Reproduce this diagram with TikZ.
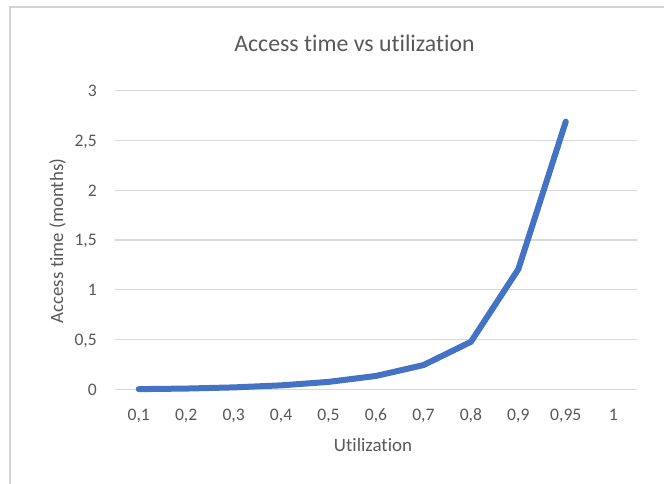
\documentclass[tikz,border=0pt]{standalone}
\usepackage{fontspec}
\setmainfont{Carlito}[Ligatures={NoCommon}]
\definecolor{txt}{HTML}{595959}
\definecolor{gridc}{HTML}{D9D9D9}
\definecolor{framec}{HTML}{D4D4D4}
\definecolor{series}{HTML}{4472C4}
\tikzset{
  gridline/.style={draw=gridc, line width=1.3pt},
  frameline/.style={draw=framec, line width=2pt},
  ticklab/.style={text=txt, font=\fontsize{17.6}{20}\selectfont, inner sep=0pt},
  axtitle/.style={text=txt, font=\fontsize{18.9}{22}\selectfont, inner sep=0pt},
  charttitle/.style={text=txt, font=\fontsize{23.8}{28}\selectfont, inner sep=0pt},
  seriesline/.style={draw=series, line width=6pt, line cap=round, line join=round},
}
\begin{document}
\begin{tikzpicture}[x=1pt,y=-1pt]
  \useasboundingbox (0,0) rectangle (664,483);
  \fill[white] (0,0) rectangle (664,483);
  % chart area frame (runs past the right and bottom edges)
  \draw[frameline] (9.7,500) -- (9.7,7) -- (700,7);
  % plot area: y from 0 to 3, 99.53 units per 1
  \def\yz{389.3}
  \def\yu{99.53}
  \foreach \v/\lab in {0/0,0.5/{0,5},1/1,1.5/{1,5},2/2,2.5/{2,5},3/3}{
    \draw[gridline] (115,{\yz-\v*\yu}) -- (637,{\yz-\v*\yu});
    \node[ticklab, anchor=base east] at (97,{\yz-\v*\yu+5.8}) {\lab};
  }
  % category labels
  \foreach \i/\lab in {0/{0,1},1/{0,2},2/{0,3},3/{0,4},4/{0,5},5/{0,6},6/{0,7},7/{0,8},8/{0,9},9/{0,95},10/1}{
    \node[ticklab, anchor=base] at ({115+47.45*(\i+0.5)},420) {\lab};
  }
  % data points
  \foreach \i/\v in {0/0.00166,1/0.00745,2/0.01916,3/0.03973,4/0.0745,5/0.1341,6/0.2433,7/0.4768,8/1.2069,9/2.6897}{
    \coordinate (p\i) at ({115+47.45*(\i+0.5)},{\yz-\v*\yu});
  }
  \draw[seriesline] (p0) -- (p1) -- (p2) -- (p3) -- (p4) -- (p5) -- (p6) -- (p7) -- (p8) -- (p9);
  % titles
  \node[charttitle, anchor=base] (title) at (354.5,51) {Access time vs utilization};
  \node[axtitle, anchor=base] (xtitle) at (373,451) {Utilization};
  \node[axtitle, anchor=base, rotate=90] (ytitle) at (63,241) {Access time (months)};
\end{tikzpicture}
\end{document}
